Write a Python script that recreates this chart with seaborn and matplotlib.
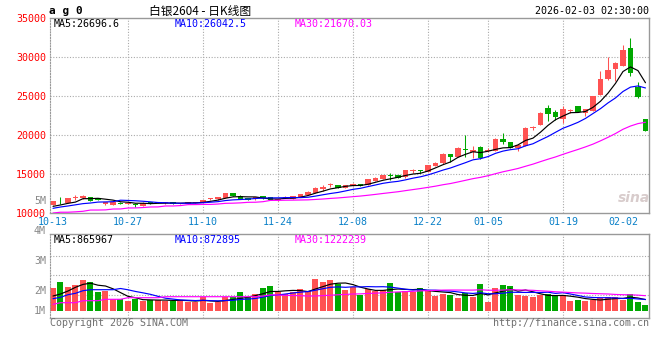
import numpy as np
import pandas as pd
import seaborn as sns
import matplotlib.pyplot as plt

sns.set_style("white")
plt.rcParams["font.family"] = ["DejaVu Sans Mono", "Noto Sans CJK SC"]

# ag0 daily K-line, 2025-10-13 .. 2026-02-03 (80 trading days)
opens = [11030, 11600, 11320, 11930, 11860, 12060, 11920, 11150, 11060, 11320,
         11200, 11130, 10900, 11410, 11300, 11300, 11370, 11120, 11120, 11300,
         11240, 11770, 11800, 11960, 12600, 12180, 11920, 11750, 12180, 12050,
         11640, 11880, 11840, 12050, 12300, 12550, 13070, 13550, 13590, 13250,
         13500, 13720, 13590, 14100, 14360, 14800, 14870, 14570, 15380, 15420,
         15220, 16030, 16450, 17560, 17220, 18250, 17860, 18420, 18000, 17950,
         19450, 19060, 18290, 18590, 20850, 21280, 23420, 22990, 22010, 23080,
         23720, 22860, 23120, 25130, 27180, 28500, 28850, 31190, 26190, 22050]
highs = [11600, 12010, 11980, 12270, 12350, 12090, 11960, 11420, 11450, 11350,
         11320, 11320, 11350, 11430, 11450, 11400, 11380, 11260, 11430, 11420,
         11700, 11950, 12080, 12620, 12620, 12250, 11950, 12100, 12230, 12080,
         11760, 12120, 12200, 12490, 12760, 13380, 13600, 13850, 13620, 13620,
         13800, 13750, 14380, 14620, 14900, 15090, 14900, 15530, 15600, 15550,
         16180, 16580, 17690, 17600, 18420, 20000, 18550, 18550, 18300, 19600,
         20300, 19100, 18850, 21000, 21200, 22950, 23800, 23200, 23680, 23300,
         23750, 23330, 25050, 28200, 29960, 29300, 31540, 32440, 26830, 22080]
lows = [10980, 11150, 11300, 11700, 11840, 11560, 11650, 11000, 11040, 11120,
        11150, 10800, 10880, 11180, 11250, 11150, 11140, 11100, 11100, 11250,
        11220, 11650, 11650, 11940, 12200, 11750, 11650, 11720, 11850, 11640,
        11600, 11860, 11820, 12030, 12280, 12530, 12800, 13300, 13230, 13230,
        13450, 13400, 13570, 14080, 14340, 14230, 14430, 14550, 15100, 15100,
        15200, 16010, 16300, 16580, 17200, 17220, 17100, 16900, 17800, 17930,
        18850, 18270, 17900, 18570, 20600, 21260, 21800, 21950, 21550, 22800,
        22970, 22500, 23100, 25100, 27050, 26920, 28830, 27560, 24800, 20500]
closes = [11560, 11480, 11940, 12000, 12200, 11580, 11700, 11370, 11410, 11150,
          11260, 11080, 11320, 11200, 11350, 11340, 11150, 11240, 11410, 11340,
          11670, 11810, 12050, 12600, 12220, 11800, 11670, 12010, 11880, 11670,
          11720, 12090, 12180, 12470, 12730, 13250, 13380, 13620, 13250, 13590,
          13750, 13460, 14360, 14530, 14870, 14700, 14450, 15510, 15450, 15350,
          16150, 16450, 17560, 17220, 18290, 18100, 18080, 17010, 18100, 19490,
          19060, 18290, 18720, 20940, 20980, 22860, 22650, 22350, 23300, 23150,
          22990, 23300, 25000, 27180, 28330, 29270, 30900, 27950, 24830, 20550]
volumes = [1771000, 2233000, 1848000, 2002000, 2387000, 2233000, 1463000, 1540000, 924000, 924000,
           793000, 924000, 793000, 847000, 847000, 793000, 793000, 847000, 716000, 670000,
           1055000, 593000, 670000, 1055000, 1055000, 1463000, 1055000, 1309000, 1771000, 1925000,
           1463000, 1309000, 1463000, 1694000, 1540000, 2464000, 2233000, 2387000, 2079000, 1617000,
           1848000, 1232000, 1694000, 1540000, 1617000, 2156000, 1463000, 1540000, 1463000, 1771000,
           1617000, 1155000, 1309000, 1232000, 1001000, 1363000, 1078000, 2079000, 693000, 1771000,
           2002000, 1925000, 1232000, 1155000, 1078000, 1232000, 1309000, 1155000, 1232000, 770000,
           847000, 770000, 847000, 1001000, 1078000, 1078000, 847000, 1309000, 693000, 462000]

# MA values before each window fills
ma5_head = [10850, 11030, 11240, 11400]
ma10_head = [10600, 10770, 10900, 11050, 11200, 11280, 11400, 11420, 11450]
ma30_head = [10000, 10100, 10100, 10150, 10220, 10380, 10380, 10400, 10510, 10520,
             10640, 10650, 10700, 10770, 10780, 10900, 10900, 10950, 11070, 11080,
             11100, 11100, 11150, 11240, 11260, 11300, 11370, 11380, 11450]
vma5_head = [1155000, 1309000, 1540000, 1825000]
vma10_head = [947000, 1055000, 1255000, 1363000, 1563000, 1640000, 1640000, 1640000, 1640000]
vma30_head = [516000, 639000, 639000, 639000, 793000, 793000, 793000, 901000, 901000, 901000,
              1024000, 1024000, 1024000, 1024000, 1024000, 1101000, 1101000, 1101000, 1101000, 1101000,
              1101000, 1101000, 1101000, 1101000, 1101000, 1101000, 1101000, 1101000, 1155000]

tick_idx = [0, 10, 20, 30, 40, 50, 58, 68, 78]
tick_labels = ["10-13", "10-27", "11-10", "11-24", "12-08", "12-22", "01-05", "01-19", "02-02"]
price_ticks = [10000, 15000, 20000, 25000, 30000, 35000]
vol_tick_labels = ["5M", "4M", "3M", "2M", "1M"]
price_ma_text = ["MA5:26696.6", "MA10:26042.5", "MA30:21670.03"]
vol_ma_text = ["MA5:865967", "MA10:872895", "MA30:1222239"]

df = pd.DataFrame({"open": opens, "high": highs, "low": lows,
                   "close": closes, "vol": volumes})
df["idx"] = np.arange(len(df))
df["dir"] = np.where(df["close"] >= df["open"], "up", "down")


def moving(col, n, head):
    out = df[col].rolling(n).mean()
    out.iloc[:n - 1] = head
    return out


df["ma5"] = moving("close", 5, ma5_head)
df["ma10"] = moving("close", 10, ma10_head)
df["ma30"] = moving("close", 30, ma30_head)
df["vma5"] = moving("vol", 5, vma5_head)
df["vma10"] = moving("vol", 10, vma10_head)
df["vma30"] = moving("vol", 30, vma30_head)

RED, GREEN = "#FF5252", "#00A800"
MA_COLORS = ["black", "#0000FF", "#FF00FF"]
GRID = "#AAAAAA"
BORDER = "#999999"
DOT = (0, (1, 1.5))
palette = {"up": RED, "down": GREEN}
colors = df["dir"].map(palette)

W, H = 660, 360
fig = plt.figure(figsize=(6.6, 3.6), dpi=100)


def fx(px):
    return px / W


def fy(py):
    return 1 - py / H


XL = (-0.4, 79.47)
ax = fig.add_axes([fx(50), fy(213), (649 - 50) / W, (213 - 18) / H])
axv = fig.add_axes([fx(50), fy(318), (649 - 50) / W, (318 - 234) / H])

# --- price panel ---
for p in price_ticks[1:-1]:
    ax.axhline(p, color=GRID, lw=0.8, ls=DOT, zorder=0)
for t in tick_idx[1:-1]:
    ax.axvline(t, color=GRID, lw=0.8, ls=DOT, zorder=0)

ax.vlines(df["idx"], df["low"], df["high"], colors=colors, lw=0.75, zorder=2)
body = np.maximum((df["close"] - df["open"]).abs(), 110)
ax.bar(df["idx"], body, bottom=np.minimum(df["open"], df["close"]),
       width=0.74, color=colors, linewidth=0, zorder=2)

for col, c in zip(["ma5", "ma10", "ma30"], MA_COLORS):
    sns.lineplot(data=df, x="idx", y=col, color=c, lw=0.85, ax=ax, zorder=3)

ax.set_xlim(*XL)
ax.set_ylim(10000, 35000)
ax.set_yticks(price_ticks)
ax.set_yticklabels([str(p) for p in price_ticks])
ax.set_xticks(tick_idx)
ax.set_xticklabels(tick_labels)
ax.tick_params(axis="y", length=0, pad=3, labelcolor="#FF0000", labelsize=7.2)
ax.tick_params(axis="x", length=0, pad=3, labelcolor="#0A80C8", labelsize=7.2)
ax.get_xticklabels()[-1].set_ha("right")
ax.get_xticklabels()[-1].set_x(79.47)
ax.set_xlabel("")
ax.set_ylabel("")

# --- volume panel ---
sns.barplot(data=df, x="idx", y="vol", hue="dir", palette=palette, dodge=False,
            width=0.8, saturation=1, errorbar=None, legend=False, linewidth=0,
            ax=axv, zorder=2)
for col, c in zip(["vma5", "vma10", "vma30"], MA_COLORS):
    axv.plot(df["idx"], df[col], color=c, lw=0.85, zorder=3)
for t in tick_idx[1:-1]:
    axv.axvline(t, color=GRID, lw=0.8, ls=DOT, zorder=0)
for gy in [256, 275, 295]:
    frac = (318 - gy) / (318 - 234)
    axv.plot([0, 1], [frac, frac], transform=axv.transAxes,
             color=GRID, lw=0.8, ls=DOT, zorder=0)
axv.set_xlim(*XL)
axv.set_ylim(-539000, 5929000)
axv.set_xticks([])
axv.set_yticks([])
axv.set_xlabel("")
axv.set_ylabel("")

for a in (ax, axv):
    for s in ("top", "right", "bottom"):
        a.spines[s].set_color(BORDER)
        a.spines[s].set_linewidth(1.0)
    a.spines["left"].set_color(BORDER)
    a.spines["left"].set_linestyle(DOT)
    a.spines["left"].set_linewidth(0.8)

for lab, py in zip(vol_tick_labels, [201, 231, 261, 291, 311]):
    fig.text(fx(46), fy(py), lab, ha="right", va="center", color="#888888", fontsize=7.2)

# --- texts ---
for txt, px, c in zip(price_ma_text, [54, 175, 295], MA_COLORS):
    fig.text(fx(px), fy(24), txt, ha="left", va="center", color=c, fontsize=7.2)
for txt, px, c in zip(vol_ma_text, [54, 175, 295], MA_COLORS):
    fig.text(fx(px), fy(240), txt, ha="left", va="center", color=c, fontsize=7.2)

fig.text(fx(49), fy(11), "a g 0", ha="left", va="center", fontsize=8,
         fontweight="bold", color="black")
fig.text(fx(200), fy(11), "白银2604 - 日K线图", ha="center", va="center", fontsize=8.5,
         family=["Noto Sans CJK SC", "DejaVu Sans"], color="black")
fig.text(fx(649), fy(11), "2026-02-03 02:30:00", ha="right", va="center",
         fontsize=7.2, color="black")
fig.text(fx(50), fy(323), "Copyright 2026 SINA.COM", ha="left", va="center",
         fontsize=7.2, color="#707070")
fig.text(fx(649), fy(323), "http://finance.sina.com.cn", ha="right", va="center",
         fontsize=7.2, color="#707070")
fig.text(fx(634), fy(198), "sina", ha="center", va="center", fontsize=10,
         fontweight="bold", style="italic", color="#D8CCCC",
         family=["DejaVu Sans"])

fig.savefig("out.png", dpi=100)
